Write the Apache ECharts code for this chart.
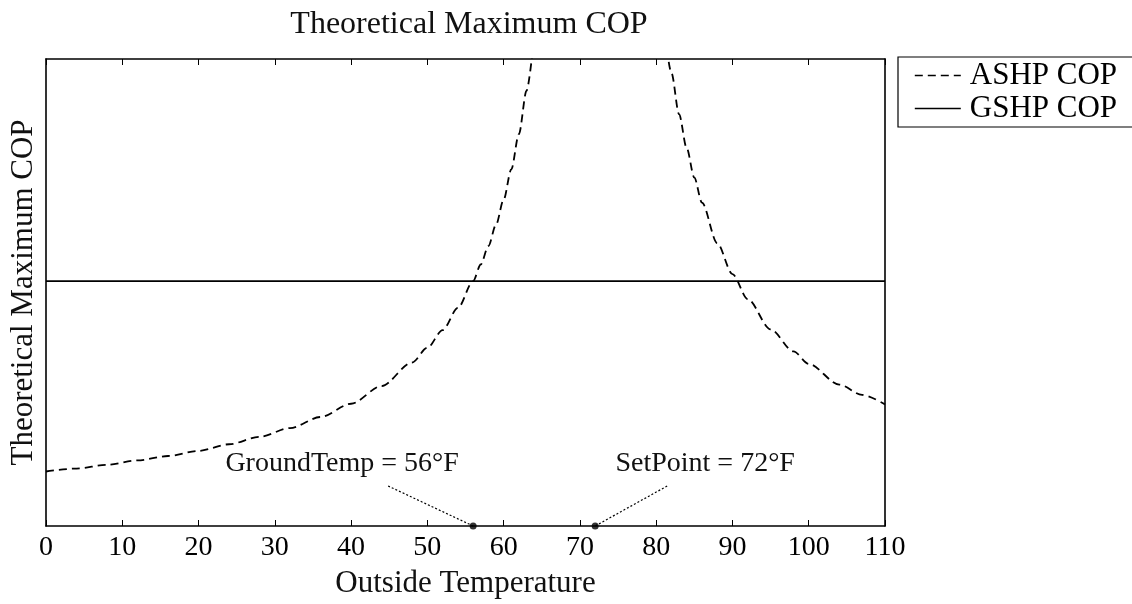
<!DOCTYPE html>
<html>
<head>
<meta charset="utf-8">
<script src="https://cdn.jsdelivr.net/npm/echarts@6/dist/echarts.min.js"></script>
<style>
  html, body { margin: 0; padding: 0; background: #fff; }
  #cop_chart { width: 1132px; height: 604px; }
</style>
</head>
<body>
<div id="cop_chart"></div>
<script>
// values
var xTicks = [0, 10, 20, 30, 40, 50, 60, 70, 80, 90, 100, 110];

// ASHP COP, heating side (below the set point)
var ashpHeatX = [0, 4, 8, 12, 16, 20, 24, 28, 32, 36, 40, 44, 48, 50, 52, 54, 56, 57, 58, 59, 60, 61, 62, 63, 64];
var ashpHeatY = [7.4, 7.8, 8.3, 8.9, 9.5, 10.2, 11.1, 12.1, 13.3, 14.8, 16.6, 19.0, 22.2, 24.2, 26.6, 29.6, 33.25, 35.5, 38.0, 40.9, 44.3, 48.4, 53.2, 59.1, 66.5];

// ASHP COP, cooling side (above the set point)
var ashpCoolX = [81, 82, 83, 84, 85, 86, 88, 90, 92, 95, 98, 100, 104, 107, 110];
var ashpCoolY = [68.3, 61.5, 55.9, 51.3, 47.3, 43.9, 38.4, 34.2, 30.8, 26.7, 23.7, 22.0, 19.2, 17.8, 16.5];

// GSHP COP is flat
var gshpX = [0, 110];
var gshpY = [33.25, 33.25];

var groundTemp = 56;
var setPoint = 72;

var yMax = 63.4;
var serif = '"Liberation Serif", "DejaVu Serif", serif';

function pairs(xs, ys) {
	var out = [];
	for (var i = 0; i < xs.length; i++) {
		out.push([xs[i], ys[i]]);
	}
	return out;
}

var Chart = echarts.init(document.getElementById("cop_chart"), null, { renderer: 'canvas' });

var dashed = { color: '#000', width: 1.8, type: [8, 5] };
var frameLine = { color : '#000', width : 1.6 };

var option = {
	backgroundColor : '#fff',
	animation : false,
	title : {
		text : 'Theoretical Maximum COP',
		left : 464,
		textAlign : 'center',
		top : 4,
		textStyle : { fontFamily : serif, fontSize : 32, fontWeight : 'normal', color : '#111' }
	},
	legend : {
		data : [ 'ASHP COP', 'GSHP COP' ],
		orient : 'vertical',
		left : 898,
		top : 57,
		padding : [ 3, 40, 3, 16 ],
		itemGap : 2,
		itemWidth : 46,
		itemHeight : 14,
		borderColor : '#000',
		borderWidth : 1.2,
		borderRadius : 0,
		itemStyle : { opacity : 0 },
		lineStyle : { width : 1.6 },
		textStyle : { fontFamily : serif, fontSize : 31, color : '#000', padding : [0, 0, 0, 4] }
	},
	grid : {
		left : 44,
		right : 247,
		top : 59,
		bottom : 74,
		containLabel : false
	},
	xAxis : [ {
		type : 'value',
		min : 0,
		max : 110,
		interval : 10,
		position : 'bottom',
		name : 'Outside Temperature',
		nameLocation : 'middle',
		nameGap : 42,
		nameTextStyle : { fontFamily : serif, fontSize : 31, color : '#111' },
		axisLine : { show : true, onZero : false, lineStyle : frameLine },
		axisTick : { show : true, inside : true, length : 6, lineStyle : { color : '#000', width : 1 } },
		axisLabel : { fontFamily : serif, fontSize : 28, color : '#000', margin : 8 },
		splitLine : { show : false }
	}, {
		type : 'value',
		min : 0,
		max : 110,
		interval : 10,
		position : 'top',
		axisLine : { show : true, onZero : false, lineStyle : frameLine },
		axisTick : { show : true, inside : true, length : 6, lineStyle : { color : '#000', width : 1 } },
		axisLabel : { show : false },
		splitLine : { show : false }
	} ],
	yAxis : [ {
		type : 'value',
		min : 0,
		max : yMax,
		position : 'left',
		name : 'Theoretical Maximum COP',
		nameLocation : 'middle',
		nameGap : 7,
		nameTextStyle : { fontFamily : serif, fontSize : 31, color : '#111' },
		axisLine : { show : true, onZero : false, lineStyle : frameLine },
		axisTick : { show : false },
		axisLabel : { show : false },
		splitLine : { show : false }
	}, {
		type : 'value',
		min : 0,
		max : yMax,
		position : 'right',
		axisLine : { show : true, onZero : false, lineStyle : frameLine },
		axisTick : { show : false },
		axisLabel : { show : false },
		splitLine : { show : false }
	} ],
	series : [ {
		name : 'ASHP COP',
		type : 'line',
		showSymbol : false,
		symbol : 'none',
		smooth : 0.3,
		smoothMonotone : 'x',
		clip : true,
		lineStyle : dashed,
		itemStyle : { color : '#000' },
		data : pairs(ashpHeatX, ashpHeatY)
	}, {
		name : 'ASHP COP',
		type : 'line',
		showSymbol : false,
		symbol : 'none',
		smooth : 0.3,
		smoothMonotone : 'x',
		clip : true,
		lineStyle : dashed,
		itemStyle : { color : '#000' },
		data : pairs(ashpCoolX, ashpCoolY)
	}, {
		name : 'GSHP COP',
		type : 'line',
		xAxisIndex : 1,
		yAxisIndex : 1,
		showSymbol : false,
		symbol : 'none',
		lineStyle : { color : '#000', width : 1.6, type : 'solid' },
		itemStyle : { color : '#000' },
		data : pairs(gshpX, gshpY)
	}, {
		name : 'marks',
		type : 'scatter',
		symbolSize : 7,
		clip : false,
		z : 5,
		itemStyle : { color : '#000' },
		data : [ [ groundTemp, 0 ], [ setPoint, 0 ] ]
	} ]
};

Chart.setOption(option);

// annotation labels with dotted leader lines, placed from the data points
var gPt = Chart.convertToPixel({ xAxisIndex : 0, yAxisIndex : 0 }, [ groundTemp, 0 ]);
var sPt = Chart.convertToPixel({ xAxisIndex : 0, yAxisIndex : 0 }, [ setPoint, 0 ]);
var dotted = { stroke : '#000', lineWidth : 1.2, lineDash : [ 2, 2 ] };

Chart.setOption({
	graphic : [ {
		type : 'line',
		shape : { x1 : gPt[0] - 85, y1 : gPt[1] - 40, x2 : gPt[0], y2 : gPt[1] },
		style : dotted
	}, {
		type : 'text',
		x : gPt[0] - 131,
		y : gPt[1] - 62,
		style : { text : 'GroundTemp = 56°F', align : 'center', verticalAlign : 'middle', font : '28px ' + serif, fill : '#111' }
	}, {
		type : 'line',
		shape : { x1 : sPt[0] + 72, y1 : sPt[1] - 40, x2 : sPt[0], y2 : sPt[1] },
		style : dotted
	}, {
		type : 'text',
		x : sPt[0] + 110,
		y : sPt[1] - 62,
		style : { text : 'SetPoint = 72°F', align : 'center', verticalAlign : 'middle', font : '28px ' + serif, fill : '#111' }
	} ]
});
</script>
</body>
</html>
